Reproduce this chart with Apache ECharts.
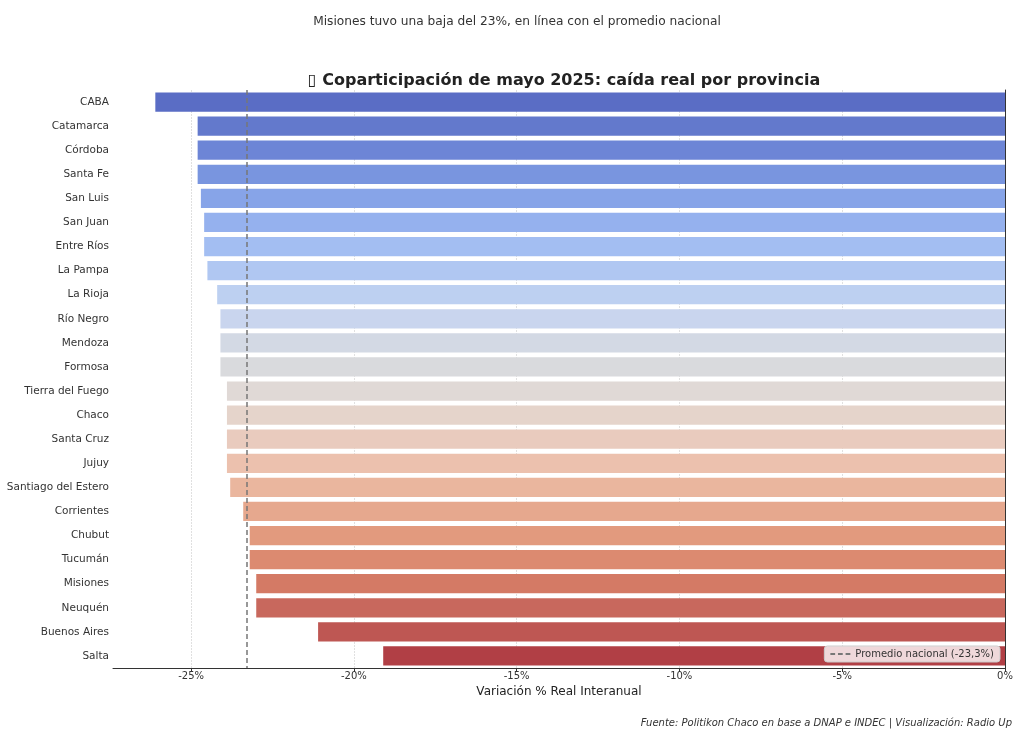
<!DOCTYPE html>
<html>
<head>
<meta charset="utf-8">
<script src="https://cdn.jsdelivr.net/npm/echarts@6/dist/echarts.min.js"></script>
<style>
  html, body { margin: 0; padding: 0; background: #fff; }
  #chart { width: 1024px; height: 731px; }
</style>
</head>
<body>
<div id="chart"></div>
<script>
// provincias, de mayor caída a menor
const provincias = ['CABA', 'Catamarca', 'Córdoba', 'Santa Fe', 'San Luis', 'San Juan', 'Entre Ríos',
  'La Pampa', 'La Rioja', 'Río Negro', 'Mendoza', 'Formosa', 'Tierra del Fuego', 'Chaco', 'Santa Cruz',
  'Jujuy', 'Santiago del Estero', 'Corrientes', 'Chubut', 'Tucumán', 'Misiones', 'Neuquén',
  'Buenos Aires', 'Salta'];
// variación % real interanual
const variacion = [-26.1, -24.8, -24.8, -24.8, -24.7, -24.6, -24.6, -24.5, -24.2, -24.1, -24.1, -24.1,
  -23.9, -23.9, -23.9, -23.9, -23.8, -23.4, -23.2, -23.2, -23.0, -23.0, -21.1, -19.1];
const promedioNacional = -23.3;
const ticksX = [-25, -20, -15, -10, -5, 0];

// paleta coolwarm aproximada
const colores = ['#5a6dc5', '#6379cc', '#6d85d6', '#7995df', '#87a4e8', '#95b1ee', '#a3bef2', '#b0c7f2',
  '#bdd0f1', '#c9d5ee', '#d3d9e4', '#d9dadd', '#e0d9d6', '#e5d4cb', '#e9cbbe', '#ecc1ae', '#eab69e',
  '#e6a88e', '#e29a7e', '#dc8a70', '#d47a65', '#c8685d', '#be5753', '#b13f45'];

const font = 'DejaVu Sans';
const chart = echarts.init(document.getElementById('chart'));

chart.setOption({
  animation: false,
  textStyle: { fontFamily: font },
  title: [
    {
      text: 'Misiones tuvo una baja del 23%, en línea con el promedio nacional',
      left: 512, top: 11, textAlign: 'center',
      textStyle: { fontSize: 12.2, fontWeight: 'normal', color: '#333', fontFamily: font }
    },
    {
      text: '\u25AF Coparticipación de mayo 2025: caída real por provincia',
      left: 559, top: 68, textAlign: 'center',
      textStyle: { fontSize: 16, fontWeight: 'bold', color: '#222', fontFamily: font }
    },
    {
      text: 'Fuente: Politikon Chaco en base a DNAP e INDEC | Visualización: Radio Up',
      right: 7, top: 713,
      textStyle: { fontSize: 10, fontWeight: 'normal', fontStyle: 'italic', color: '#333', fontFamily: font }
    }
  ],
  legend: {
    data: [{
      name: 'Promedio nacional (-23,3%)',
      icon: 'path://M0,4h5v2h-5z M8,4h5v2h-5z M16,4h5v2h-5z'
    }],
    right: 24, bottom: 69,
    itemWidth: 20, itemHeight: 10, itemGap: 6,
    padding: [3, 6],
    backgroundColor: 'rgba(255,255,255,0.8)',
    borderColor: '#ccc', borderWidth: 1, borderRadius: 3,
    textStyle: { fontSize: 10, color: '#333', fontFamily: font }
  },
  grid: { left: 113, right: 19, top: 90, bottom: 63 },
  xAxis: {
    type: 'value',
    min: -27.4, max: 0,
    name: 'Variación % Real Interanual',
    nameLocation: 'middle', nameGap: 13,
    nameTextStyle: { fontSize: 12, color: '#222' },
    axisLine: { show: true, lineStyle: { color: '#333', width: 1 } },
    axisTick: { show: true, customValues: ticksX, length: 4, lineStyle: { color: '#333' } },
    axisLabel: {
      customValues: ticksX, fontSize: 10, color: '#333', margin: 3,
      formatter: v => Math.round(v) + '%'
    },
    splitLine: { show: true, lineStyle: { color: '#e0e0e0', width: 1, type: [2, 1] } }
  },
  yAxis: {
    type: 'category',
    data: provincias,
    inverse: true,
    axisLine: { show: true, lineStyle: { color: '#333', width: 1 } },
    axisTick: { show: true, alignWithLabel: true, length: 4, lineStyle: { color: '#333' } },
    axisLabel: { fontSize: 10.5, color: '#333', margin: 4 }
  },
  series: [
    {
      type: 'bar',
      data: variacion.map((v, i) => ({ value: v, itemStyle: { color: colores[i] } })),
      barCategoryGap: '20%',
      z: 2
    },
    {
      name: 'Promedio nacional (-23,3%)',
      type: 'line',
      data: [],
      symbol: 'none',
      color: '#777',
      lineStyle: { type: [5, 3], width: 1.5, color: '#777' },
      markLine: {
        silent: true,
        symbol: 'none',
        label: { show: false },
        lineStyle: { type: [5, 3], width: 1.5, color: '#777' },
        data: [{ xAxis: promedioNacional }]
      },
      z: 3
    }
  ]
});
</script>
</body>
</html>
